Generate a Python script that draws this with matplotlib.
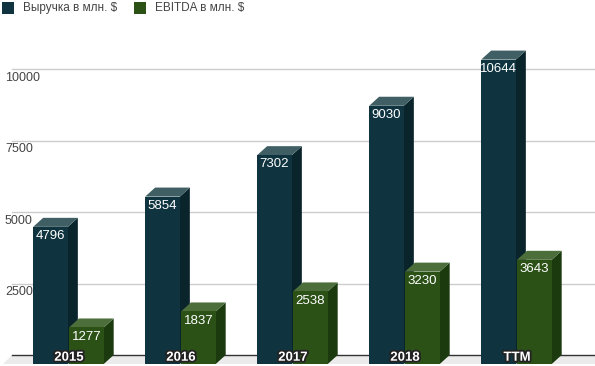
import matplotlib.pyplot as plt
import matplotlib.patheffects as pe
from matplotlib.patches import Polygon, Rectangle

plt.rcParams['font.family'] = ['Liberation Sans', 'DejaVu Sans']

# Data
years = ["2015", "2016", "2017", "2018", "TTM"]
revenue = [4796, 5854, 7302, 9030, 10644]
ebitda = [1277, 1837, 2538, 3230, 3643]
yticks = [2500, 5000, 7500, 10000]
series_names = ["Выручка в млн. $", "EBITDA в млн. $"]

# Colours (front, top, side)
rev_colors = ("#0f3440", "#3f5f64", "#0a242b")
ebt_colors = ("#2b5117", "#4b6e3b", "#1b3a0e")

# 3D look
bar_w = 0.31
dx = 0.089   # depth in x (category units)
dy = 315     # depth in y (value units)

W, H = 595, 366


def draw_bar(ax, x0, v, colors):
    front, top, side = colors
    x1 = x0 + bar_w
    ax.add_patch(Polygon([(x1, -dy), (x1, v - dy), (x1 + dx, v), (x1 + dx, 0)],
                         closed=True, fc=side, ec="none", zorder=3))
    ax.add_patch(Polygon([(x0, v - dy), (x1, v - dy), (x1 + dx, v), (x0 + dx, v)],
                         closed=True, fc=top, ec="none", zorder=3))
    ax.add_patch(Polygon([(x0, -dy), (x1, -dy), (x1, v - dy), (x0, v - dy)],
                         closed=True, fc=front, ec="none", zorder=3))
    ax.text(x0 + bar_w / 2, v - dy - 110, str(v), color="white", fontsize=9.5,
            ha="center", va="top", zorder=5)


fig = plt.figure(figsize=(W / 100, H / 100), dpi=100)
ax = fig.add_axes([0, 0, 1, 336 / H])
ax.set_xlim(-69 / 112, (W - 69) / 112)
ax.set_ylim(-11 * 2500 / 71.5, 325 * 2500 / 71.5)
ax.axis("off")

left = -57 / 112
right = (W - 69) / 112

# Floor
ax.add_patch(Polygon([(left, 0), (right, 0), (right, -dy), (-66 / 112, -dy)],
                     closed=True, fc="#ebebeb", ec="none", zorder=1))

# Grid lines and tick labels
for t in yticks:
    ax.plot([left, right], [t, t], color="#cccccc", lw=1, zorder=2)
    ax.text(-64 / 112, t - 90, str(t), color="#444444", fontsize=9,
            ha="left", va="top", zorder=2)
ax.plot([left, right], [0, 0], color="#333333", lw=1, zorder=2)

# Bars
for i, year in enumerate(years):
    draw_bar(ax, i - 0.32, revenue[i], rev_colors)
    draw_bar(ax, i, ebitda[i], ebt_colors)
    ax.text(i, -95, year, color="white", fontsize=9.5, fontweight="bold",
            ha="center", va="center", zorder=6,
            path_effects=[pe.withStroke(linewidth=2.6, foreground="#222222")])

# Legend
legend_items = [(2, series_names[0], rev_colors[0], 23),
                (134, series_names[1], ebt_colors[0], 155)]
for sx, name, col, tx in legend_items:
    fig.add_artist(Rectangle((sx / W, 1 - 14 / H), 12 / W, 12 / H,
                             transform=fig.transFigure, fc=col, ec="none"))
    fig.text(tx / W, 1 - 8 / H, name, color="#444444", fontsize=8.5,
             ha="left", va="center")

fig.savefig("out.png", dpi=100)
